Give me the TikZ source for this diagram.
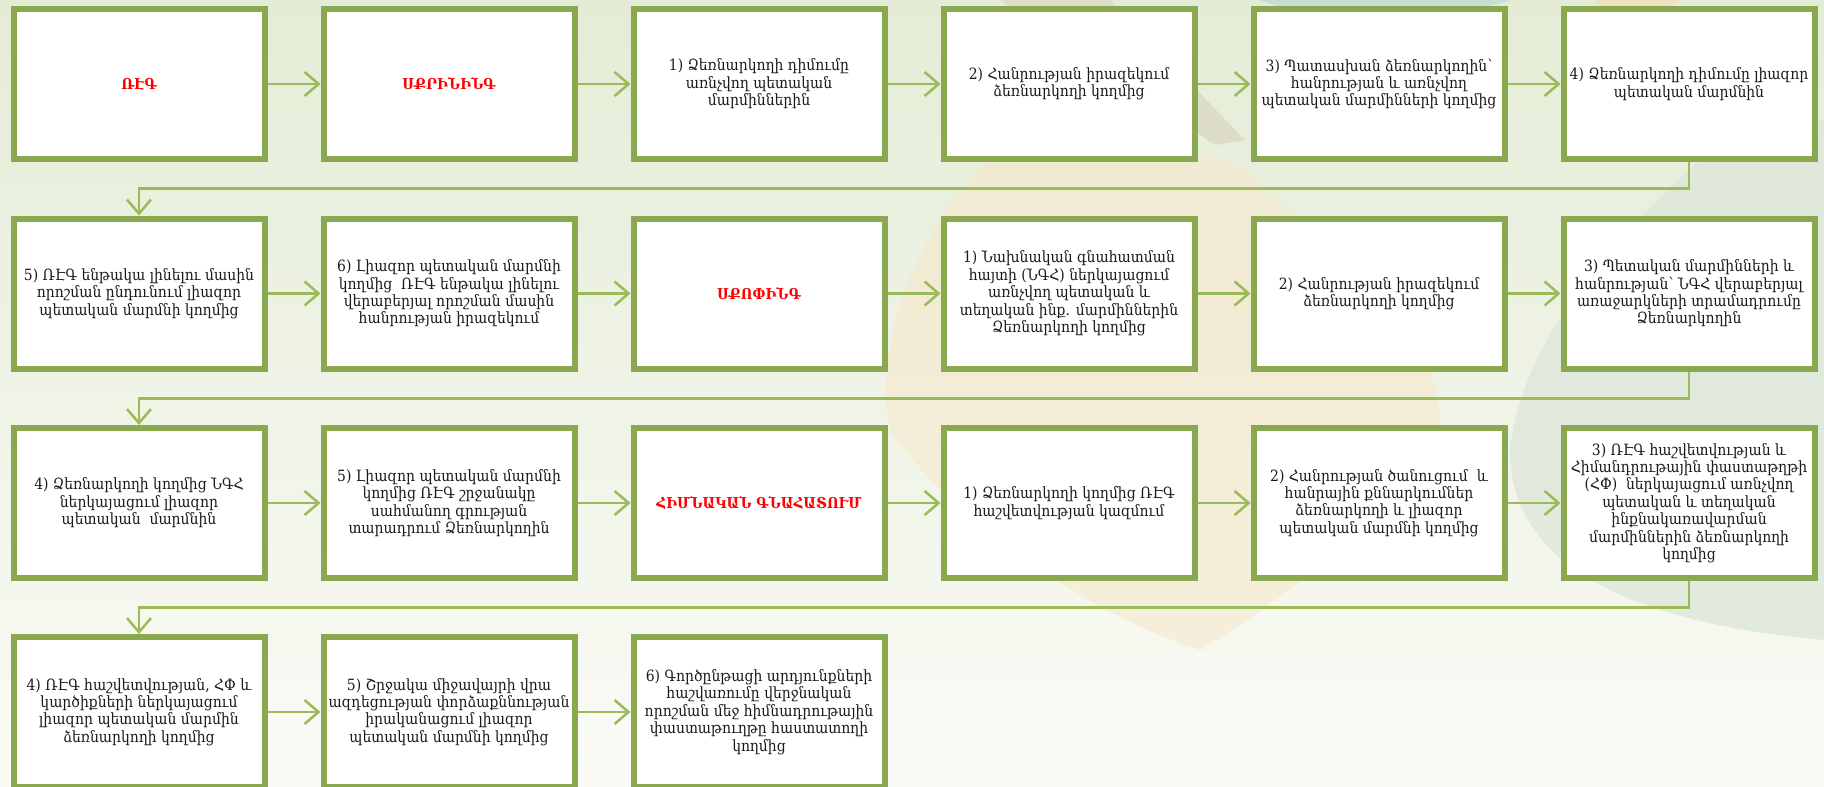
\documentclass[tikz,border=0pt]{standalone}
\usepackage{fontspec}
\setmainfont{DejaVu Serif Condensed}
\usetikzlibrary{arrows.meta}
\definecolor{boxgreen}{HTML}{8AA84F}
\definecolor{linegreen}{HTML}{9BBB59}
\definecolor{bgtop}{HTML}{E4ECD6}
\definecolor{bgbot}{HTML}{FAFBF6}
\definecolor{bgbeige}{HTML}{F6E8CC}
\definecolor{bgteal}{HTML}{C5DDD5}
\definecolor{bgtan}{HTML}{DAD6C2}
\definecolor{bgorange}{HTML}{F2DDBA}
\definecolor{bggreygreen}{HTML}{DCE6D8}
\definecolor{txt}{HTML}{1A1A1A}
\begin{document}
\begin{tikzpicture}[x=1pt,y=-1pt,
  box/.style={draw=boxgreen, line width=6pt, fill=white, minimum width=251pt, minimum height=150pt,
    inner sep=2pt, align=center, text=txt, font=\fontsize{15.5}{17.4}\selectfont},
  titlebox/.style={box, text=red, font=\fontsize{15}{17.4}\selectfont\bfseries},
  conn/.style={draw=linegreen, line width=2.5pt, -{Straight Barb[length=14pt,width=24pt]}},
]
\useasboundingbox (0,0) rectangle (1824,787);
\clip (0,0) rectangle (1824,787);
% background
\shade[top color=bgtop, bottom color=bgbot] (0,0) rectangle (1824,787);
\fill[bgbeige, opacity=.6] (1000,150) .. controls (1100,140) and (1200,150) .. (1240,165)
  .. controls (1330,250) and (1440,330) .. (1440,420)
  .. controls (1400,520) and (1280,600) .. (1200,650)
  .. controls (1100,620) and (950,520) .. (890,430)
  .. controls (870,330) and (930,210) .. cycle;
\fill[bgtan, opacity=.7] (1000,0) -- (1110,0) -- (1245,140) -- (1215,145) -- cycle;
\fill[bgteal, opacity=.9] (1260,0) -- (1510,0) .. controls (1480,12) and (1400,18) .. (1300,14) -- cycle;
\fill[bgorange, opacity=.8] (1595,0) -- (1680,0) -- (1660,12) -- (1600,10) -- cycle;
\fill[bggreygreen, opacity=.75] (1824,120) -- (1824,640)
  .. controls (1600,620) and (1510,550) .. (1510,450)
  .. controls (1520,350) and (1600,250) .. (1700,160) -- cycle;

% row 1
\node[titlebox] (r1c1) at (139,84) {ՌԷԳ};
\node[titlebox] (r1c2) at (449,84) {ՍՔՐԻՆԻՆԳ};
\node[box] (r1c3) at (759,84) {1) Ձեռնարկողի դիմումը\\առնչվող պետական\\մարմիններին};
\node[box] (r1c4) at (1069,84) {2) Հանրության իրազեկում\\ձեռնարկողի կողմից};
\node[box] (r1c5) at (1379,84) {3) Պատասխան ձեռնարկողին՝\\հանրության և առնչվող\\պետական մարմինների կողմից};
\node[box] (r1c6) at (1689,84) {4) Ձեռնարկողի դիմումը լիազոր\\պետական մարմնին};
% row 2
\node[box] (r2c1) at (139,293.5) {5) ՌԷԳ ենթակա լինելու մասին\\որոշման ընդունում լիազոր\\պետական մարմնի կողմից};
\node[box] (r2c2) at (449,293.5) {6) Լիազոր պետական մարմնի\\կողմից~ ՌԷԳ ենթակա լինելու\\վերաբերյալ որոշման մասին\\հանրության իրազեկում};
\node[titlebox] (r2c3) at (759,293.5) {ՍՔՈՓԻՆԳ};
\node[box] (r2c4) at (1069,293.5) {1) Նախնական գնահատման\\հայտի (ՆԳՀ) ներկայացում\\առնչվող պետական և\\տեղական ինք. մարմիններին\\Ձեռնարկողի կողմից};
\node[box] (r2c5) at (1379,293.5) {2) Հանրության իրազեկում\\ձեռնարկողի կողմից};
\node[box] (r2c6) at (1689,293.5) {3) Պետական մարմինների և\\հանրության՝ ՆԳՀ վերաբերյալ\\առաջարկների տրամադրումը\\Ձեռնարկողին};
% row 3
\node[box] (r3c1) at (139,503) {4) Ձեռնարկողի կողմից ՆԳՀ\\ներկայացում լիազոր\\պետական~ մարմնին};
\node[box] (r3c2) at (449,503) {5) Լիազոր պետական մարմնի\\կողմից ՌԷԳ շրջանակը\\սահմանող գրության\\տարադրում Ձեռնարկողին};
\node[titlebox] (r3c3) at (759,503) {ՀԻՄՆԱԿԱՆ ԳՆԱՀԱՏՈՒՄ};
\node[box] (r3c4) at (1069,503) {1) Ձեռնարկողի կողմից ՌԷԳ\\հաշվետվության կազմում};
\node[box] (r3c5) at (1379,503) {2) Հանրության ծանուցում~ և\\հանրային քննարկումներ\\ձեռնարկողի և լիազոր\\պետական մարմնի կողմից};
\node[box] (r3c6) at (1689,503) {3) ՌԷԳ հաշվետվության և\\Հիմանդրութային փաստաթղթի\\(ՀՓ)~ ներկայացում առնչվող\\պետական և տեղական\\ինքնակառավարման\\մարմիններին ձեռնարկողի\\կողմից};
% row 4
\node[box] (r4c1) at (139,712) {4) ՌԷԳ հաշվետվության, ՀՓ և\\կարծիքների ներկայացում\\լիազոր պետական մարմին\\ձեռնարկողի կողմից};
\node[box] (r4c2) at (449,712) {5) Շրջակա միջավայրի վրա\\ազդեցության փորձաքննության\\իրականացում լիազոր\\պետական մարմնի կողմից};
\node[box] (r4c3) at (759,712) {6) Գործընթացի արդյունքների\\հաշվառումը վերջնական\\որոշման մեջ հիմնադրութային\\փաստաթուղթը հաստատողի\\կողմից};

% horizontal connectors
\foreach \r/\n in {1/6,2/6,3/6,4/3}{
  \foreach \c [remember=\c as \p (initially 1)] in {2,...,\n}{
    \draw[conn] (r\r c\p.east) -- (r\r c\c.west);
  }
}
% row-to-row connectors
\coordinate (k1) at (139,188.5);
\coordinate (k2) at (139,398.5);
\coordinate (k3) at (139,607.5);
\draw[conn] (r1c6.south) |- (k1) -- (r2c1.north);
\draw[conn] (r2c6.south) |- (k2) -- (r3c1.north);
\draw[conn] (r3c6.south) |- (k3) -- (r4c1.north);
\end{tikzpicture}
\end{document}
